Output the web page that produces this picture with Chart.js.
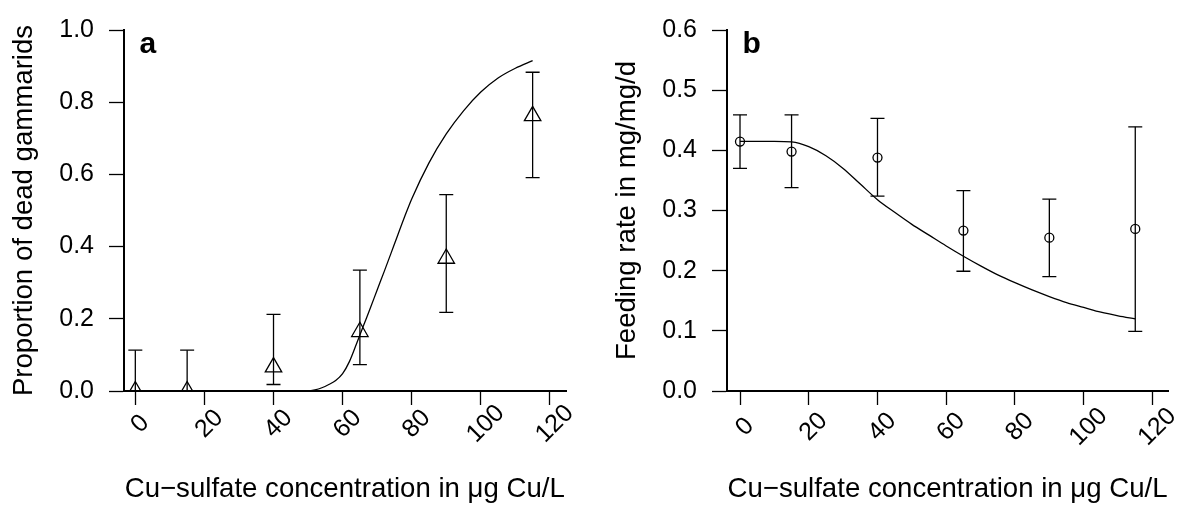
<!DOCTYPE html>
<html>
<head>
<meta charset="utf-8">
<script src="https://cdn.jsdelivr.net/npm/chart.js@4/dist/chart.umd.min.js"></script>
<style>
  html, body { margin: 0; padding: 0; background: #fff; }
  .panel { position: absolute; top: 0; height: 507px; }
  #panelA { left: 0; width: 590px; }
  #panelB { left: 590px; width: 591px; }
</style>
</head>
<body>
<div class="panel" id="panelA"><canvas id="mortalityChart"></canvas></div>
<div class="panel" id="panelB"><canvas id="feedingChart"></canvas></div>
<script>
// concentrations tested (µg Cu/L)
const concentrations = [0, 15, 40, 65, 90, 115];

// panel a: proportion of dead gammarids
const mortality = [0, 0, 0.066, 0.164, 0.367, 0.762];
const mortalityLower = [0, 0, 0.018, 0.073, 0.218, 0.591];
const mortalityUpper = [0.113, 0.113, 0.212, 0.335, 0.544, 0.883];
const mortalityFitX = [0, 50, 52, 54, 56, 58, 60, 62, 64, 66, 68, 70, 72, 75, 78, 80, 85, 90, 95, 100, 105, 110, 115];
const mortalityFitY = [0, 0, 0.003, 0.009, 0.018, 0.029, 0.048, 0.082, 0.130, 0.180, 0.229, 0.280, 0.330, 0.407, 0.484, 0.532, 0.632, 0.712, 0.776, 0.828, 0.867, 0.894, 0.915];

// panel b: feeding rate in mg/mg/d
const feeding = [0.4145, 0.398, 0.388, 0.2666, 0.2548, 0.2694];
const feedingLower = [0.370, 0.338, 0.324, 0.199, 0.190, 0.099];
const feedingUpper = [0.459, 0.459, 0.453, 0.333, 0.319, 0.439];
const feedingFitX = [0, 10, 15, 20, 25, 30, 35, 40, 45, 50, 55, 60, 65, 70, 75, 80, 85, 90, 95, 100, 105, 110, 115];
const feedingFitY = [0.415, 0.415, 0.414, 0.406, 0.391, 0.370, 0.344, 0.318, 0.297, 0.277, 0.259, 0.241, 0.224, 0.208, 0.193, 0.180, 0.168, 0.157, 0.147, 0.139, 0.131, 0.125, 0.120];

// tick labels
const xTicks = [0, 20, 40, 60, 80, 100, 120];
const mortalityTicks = [0, 0.2, 0.4, 0.6, 0.8, 1.0];
const feedingTicks = [0, 0.1, 0.2, 0.3, 0.4, 0.5, 0.6];

const xTitle = 'Cu\u2212sulfate concentration in \u03bcg Cu/L';
const FONT = '"Liberation Sans", Arial, Helvetica, sans-serif';
const TICK_SIZE = 25;
const TITLE_SIZE = 27.6;

Chart.defaults.font.family = FONT;
Chart.defaults.color = '#000';

const toPoints = (xs, ys) => xs.map((x, i) => ({ x: x, y: ys[i] }));
const toErrorBars = (xs, lo, hi) => xs.flatMap((x, i) => [{ x: x, y: lo[i] }, { x: x, y: hi[i] }, { x: x, y: null }]);

// R-style tick labels: rotated 45 degrees and centred under the tick
const rotatedTicks = {
  id: 'rotatedTicks',
  afterDraw(chart, args, opts) {
    const scale = chart.scales.x;
    const ctx = chart.ctx;
    ctx.save();
    ctx.font = TICK_SIZE + 'px ' + FONT;
    ctx.fillStyle = '#000';
    ctx.textAlign = 'center';
    ctx.textBaseline = 'middle';
    scale.ticks.forEach(t => {
      ctx.save();
      ctx.translate(scale.getPixelForValue(t.value) + opts.dx, scale.top + opts.dy);
      ctx.rotate(-Math.PI / 4);
      ctx.fillText(String(t.value), 0, 0);
      ctx.restore();
    });
    ctx.restore();
  }
};

const panelLetter = {
  id: 'panelLetter',
  afterDraw(chart, args, opts) {
    const ctx = chart.ctx;
    ctx.save();
    ctx.font = 'bold 30px ' + FONT;
    ctx.fillStyle = '#000';
    ctx.textAlign = 'left';
    ctx.textBaseline = 'alphabetic';
    ctx.fillText(opts.text, chart.chartArea.left + opts.dx, opts.y);
    ctx.restore();
  }
};

function buildChart(canvasId, cfg) {
  const ctx = document.getElementById(canvasId);
  return new Chart(ctx, {
    type: 'scatter',
    data: {
      datasets: [
        {
          label: 'fit',
          type: 'line',
          data: toPoints(cfg.fitX, cfg.fitY),
          borderColor: '#000',
          borderWidth: 1.3,
          pointRadius: 0,
          cubicInterpolationMode: 'monotone',
          fill: false,
          clip: 0
        },
        {
          label: 'error',
          type: 'line',
          data: toErrorBars(concentrations, cfg.lower, cfg.upper),
          borderColor: '#000',
          borderWidth: 1.3,
          spanGaps: false,
          pointStyle: 'line',
          pointRadius: 7,
          pointBorderWidth: 1.3,
          pointBorderColor: '#000',
          fill: false,
          clip: 0
        },
        {
          label: 'observed',
          data: toPoints(concentrations, cfg.values),
          pointStyle: cfg.pointStyle,
          pointRadius: cfg.pointRadius,
          pointBorderWidth: 1.3,
          pointBorderColor: '#000',
          pointBackgroundColor: 'rgba(0,0,0,0)',
          clip: 0
        }
      ]
    },
    options: {
      responsive: true,
      maintainAspectRatio: false,
      animation: false,
      events: [],
      layout: { padding: { left: 0, right: cfg.padRight, top: cfg.padTop, bottom: 0 } },
      plugins: {
        legend: { display: false },
        tooltip: { enabled: false },
        rotatedTicks: { dx: 5, dy: cfg.labelDy },
        panelLetter: { text: cfg.letter, dx: 16, y: 53 }
      },
      scales: {
        x: {
          type: 'linear',
          min: cfg.xMin,
          max: cfg.xMax,
          afterBuildTicks: s => { s.ticks = xTicks.map(v => ({ value: v })); },
          afterFit: s => { s.height = 116; },
          ticks: { display: false },
          grid: { drawOnChartArea: false, drawTicks: true, tickLength: 14, tickWidth: 1.3, tickColor: '#000', color: '#000' },
          border: { display: true, color: '#000', width: 2 },
          title: {
            display: true,
            text: xTitle,
            font: { size: TITLE_SIZE, lineHeight: 1.2 },
            padding: { top: 0, bottom: 1.5 }
          }
        },
        y: {
          type: 'linear',
          min: 0,
          max: cfg.yMax,
          afterBuildTicks: s => { s.ticks = cfg.yTicks.map(v => ({ value: v })); },
          afterFit: s => { s.width = cfg.yWidth; },
          ticks: {
            font: { size: TICK_SIZE },
            padding: 15,
            callback: v => Number(v).toFixed(1)
          },
          grid: { drawOnChartArea: false, drawTicks: true, tickLength: 14.5, tickWidth: 1.3, tickColor: '#000', color: '#000' },
          border: { display: true, color: '#000', width: 2 },
          title: {
            display: true,
            text: cfg.yTitle,
            font: { size: TITLE_SIZE, lineHeight: 1.2 },
            padding: { top: cfg.yTitlePad, bottom: 0 }
          }
        }
      }
    },
    plugins: [rotatedTicks, panelLetter]
  });
}

document.addEventListener('DOMContentLoaded', function () {
  buildChart('mortalityChart', {
    values: mortality, lower: mortalityLower, upper: mortalityUpper,
    fitX: mortalityFitX, fitY: mortalityFitY,
    pointStyle: 'triangle', pointRadius: 9.5,
    yMax: 1.0, yTicks: mortalityTicks, yTitle: 'Proportion of dead gammarids',
    xMin: -3.42, xMax: 124.66, yWidth: 123.5, yTitlePad: 7.5,
    padTop: 20, padRight: 24, labelDy: 33, letter: 'a'
  });
  buildChart('feedingChart', {
    values: feeding, lower: feedingLower, upper: feedingUpper,
    fitX: feedingFitX, fitY: feedingFitY,
    pointStyle: 'circle', pointRadius: 4.5,
    yMax: 0.6, yTicks: feedingTicks, yTitle: 'Feeding rate in mg/mg/d',
    xMin: -3.93, xMax: 124.7, yWidth: 136.5, yTitlePad: 21.3,
    padTop: 19.3, padRight: 12.4, labelDy: 36, letter: 'b'
  });
});
</script>
</body>
</html>
